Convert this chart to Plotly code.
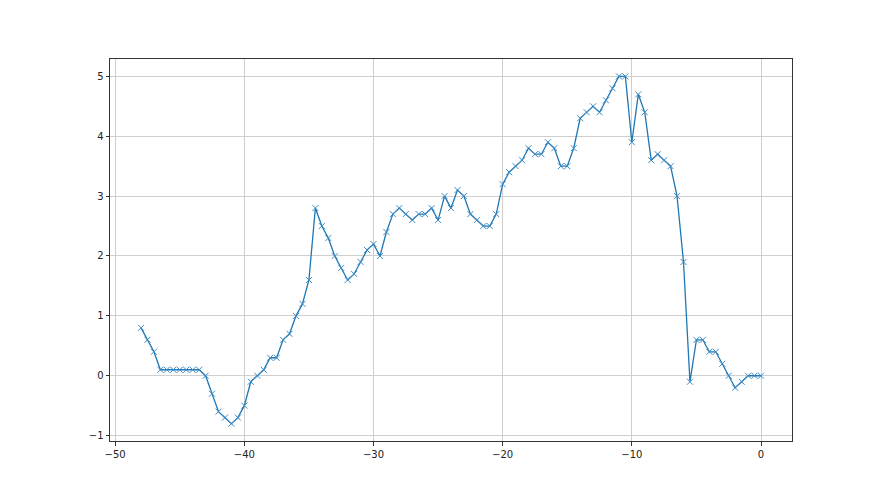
import plotly.graph_objects as go

x_values = [i * 0.5 - 48 for i in range(97)]
y_values = [
    0.8, 0.6, 0.4, 0.1, 0.1, 0.1, 0.1, 0.1, 0.1, 0.1,   # -48 .. -43.5
    0.0, -0.3, -0.6, -0.7, -0.8, -0.7, -0.5, -0.1, 0.0, 0.1,  # -43 .. -38.5
    0.3, 0.3, 0.6, 0.7, 1.0, 1.2, 1.6, 2.8, 2.5, 2.3,   # -38 .. -33.5
    2.0, 1.8, 1.6, 1.7, 1.9, 2.1, 2.2, 2.0, 2.4, 2.7,   # -33 .. -28.5
    2.8, 2.7, 2.6, 2.7, 2.7, 2.8, 2.6, 3.0, 2.8, 3.1,   # -28 .. -23.5
    3.0, 2.7, 2.6, 2.5, 2.5, 2.7, 3.2, 3.4, 3.5, 3.6,   # -23 .. -18.5
    3.8, 3.7, 3.7, 3.9, 3.8, 3.5, 3.5, 3.8, 4.3, 4.4,   # -18 .. -13.5
    4.5, 4.4, 4.6, 4.8, 5.0, 5.0, 3.9, 4.7, 4.4, 3.6,   # -13 .. -8.5
    3.7, 3.6, 3.5, 3.0, 1.9, -0.1, 0.6, 0.6, 0.4, 0.4,  # -8 .. -3.5
    0.2, 0.0, -0.2, -0.1, 0.0, 0.0, 0.0,                 # -3 .. 0
]
x_ticks = [-50, -40, -30, -20, -10, 0]
y_ticks = [-1, 0, 1, 2, 3, 4, 5]

fig = go.Figure()
fig.add_trace(go.Scatter(
    x=x_values, y=y_values, mode="lines+markers",
    line=dict(color="#1f77b4", width=1.3),
    marker=dict(symbol="x-thin", size=6, line=dict(color="#3d8bc4", width=1)),
    showlegend=False,
))

axis_common = dict(
    showline=True, mirror=True, linecolor="#333333", linewidth=1,
    ticks="outside", ticklen=3.5, tickwidth=0.8, tickcolor="#333333",
    showgrid=True, gridcolor="#cfcfcf", gridwidth=0.8, zeroline=False,
    tickfont=dict(family="DejaVu Sans", size=10, color="#222222"),
)
xmin, xmax = min(x_values), max(x_values)
ymin, ymax = min(y_values), max(y_values)
xpad = (xmax - xmin) * 0.05
ypad = (ymax - ymin) * 0.05
fig.update_xaxes(range=[xmin - xpad, xmax + xpad], tickvals=x_ticks, **axis_common)
fig.update_yaxes(range=[ymin - ypad, ymax + ypad], tickvals=y_ticks, **axis_common)

fig.update_layout(
    width=880, height=495,
    margin=dict(l=102, r=96, t=51, b=62),
    plot_bgcolor="white", paper_bgcolor="white",
)
fig.write_html("out.html")
